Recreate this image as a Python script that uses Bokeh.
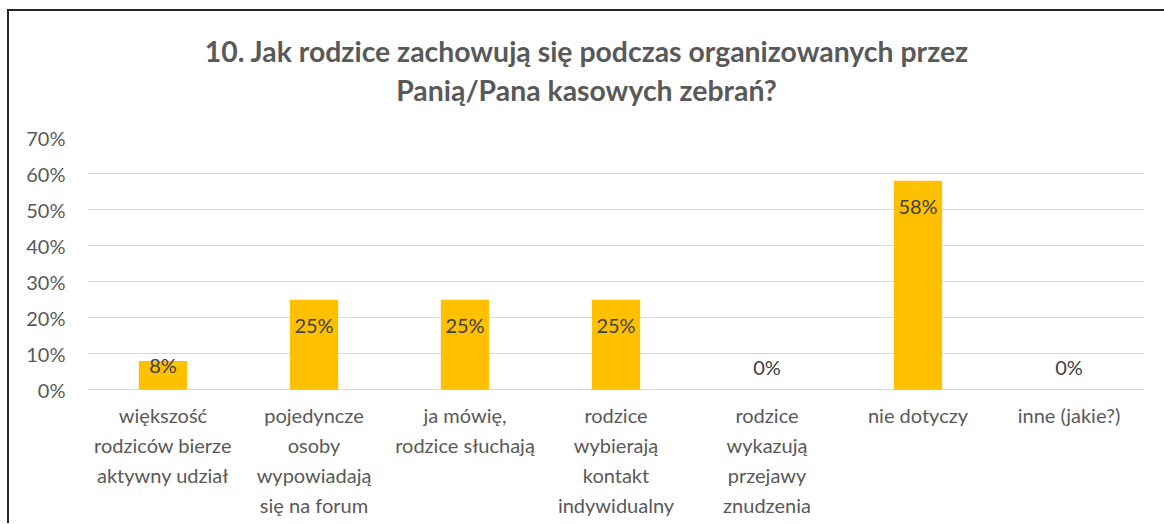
from bokeh.plotting import figure
from bokeh.models import ColumnDataSource, NumeralTickFormatter, FixedTicker, Div
from bokeh.layouts import column
from bokeh.core.properties import value
from bokeh.embed import file_html
from bokeh.resources import INLINE

title_lines = ["10. Jak rodzice zachowują się podczas organizowanych przez",
               "Panią/Pana kasowych zebrań?"]
categories = ["większość rodziców bierze aktywny udział",
              "pojedyncze osoby wypowiadają się na forum",
              "ja mówię, rodzice słuchają",
              "rodzice wybierają kontakt indywidualny",
              "rodzice wykazują przejawy znudzenia",
              "nie dotyczy",
              "inne (jakie?)"]
tick_labels = ["większość\nrodziców bierze\naktywny udział",
               "pojedyncze\nosoby\nwypowiadają\nsię na forum",
               "ja mówię,\nrodzice słuchają",
               "rodzice\nwybierają\nkontakt\nindywidualny",
               "rodzice\nwykazują\nprzejawy\nznudzenia",
               "nie dotyczy",
               "inne (jakie?)"]
values = [0.08, 0.25, 0.25, 0.25, 0.0, 0.58, 0.0]
y_ticks = [0, 0.1, 0.2, 0.3, 0.4, 0.5, 0.6, 0.7]

FONT = "Lato"
GREY = "#595959"

title = Div(
    text=("<div style=\"font-family:Lato;font-weight:bold;font-size:28.4px;"
          "color:#595959;text-align:center;line-height:39px;padding-top:21px;"
          "width:1155px;\">" + "<br>".join(title_lines) + "</div>"),
    width=1155, height=105, margin=0)

p = figure(x_range=categories, y_range=(-0.36, 0.7), width=1155, height=407,
           output_backend="svg", toolbar_location=None, margin=0,
           min_border_left=78, min_border_right=20, min_border_top=21,
           min_border_bottom=4)
p.outline_line_color = None
p.background_fill_color = "white"

src = ColumnDataSource(dict(
    cat=categories, val=values, tick=tick_labels,
    lab=[f"{round(v*100)}%" for v in values],
    off=[(-23 if v == 0 else (4 if v < 0.1 else 25)) for v in values],
    zero=[0] * len(values),
))
p.vbar(x="cat", top="val", width=0.32, source=src, color="#FFC000", line_color=None)
p.text(x="cat", y="val", text="lab", y_offset="off", source=src,
       text_align="center", text_baseline="middle", text_font=value(FONT),
       text_font_size="20px", text_color="#404040")

# category labels (multi-line) under the baseline
p.text(x="cat", y="zero", text="tick", y_offset=13, source=src,
       text_align="center", text_baseline="top", text_font=value(FONT),
       text_font_size="20px", text_color=GREY, text_line_height=1.25)

p.yaxis.ticker = FixedTicker(ticks=y_ticks)
p.yaxis.formatter = NumeralTickFormatter(format="0%")
p.yaxis.axis_line_color = None
p.yaxis.major_tick_line_color = None
p.yaxis.minor_tick_line_color = None
p.yaxis.major_label_text_font = FONT
p.yaxis.major_label_text_font_size = "20px"
p.yaxis.major_label_text_color = GREY
p.yaxis.major_label_standoff = 16

p.xaxis.visible = False
p.xgrid.grid_line_color = None
p.ygrid.grid_line_color = "#d9d9d9"
p.ygrid.grid_line_width = 1

layout = column(title, p, spacing=0)
layout.styles = {"border-top": "2px solid #262626", "border-left": "2px solid #262626",
                 "margin-left": "7px", "margin-top": "9px"}

open("out.html", "w").write(file_html(layout, INLINE))
